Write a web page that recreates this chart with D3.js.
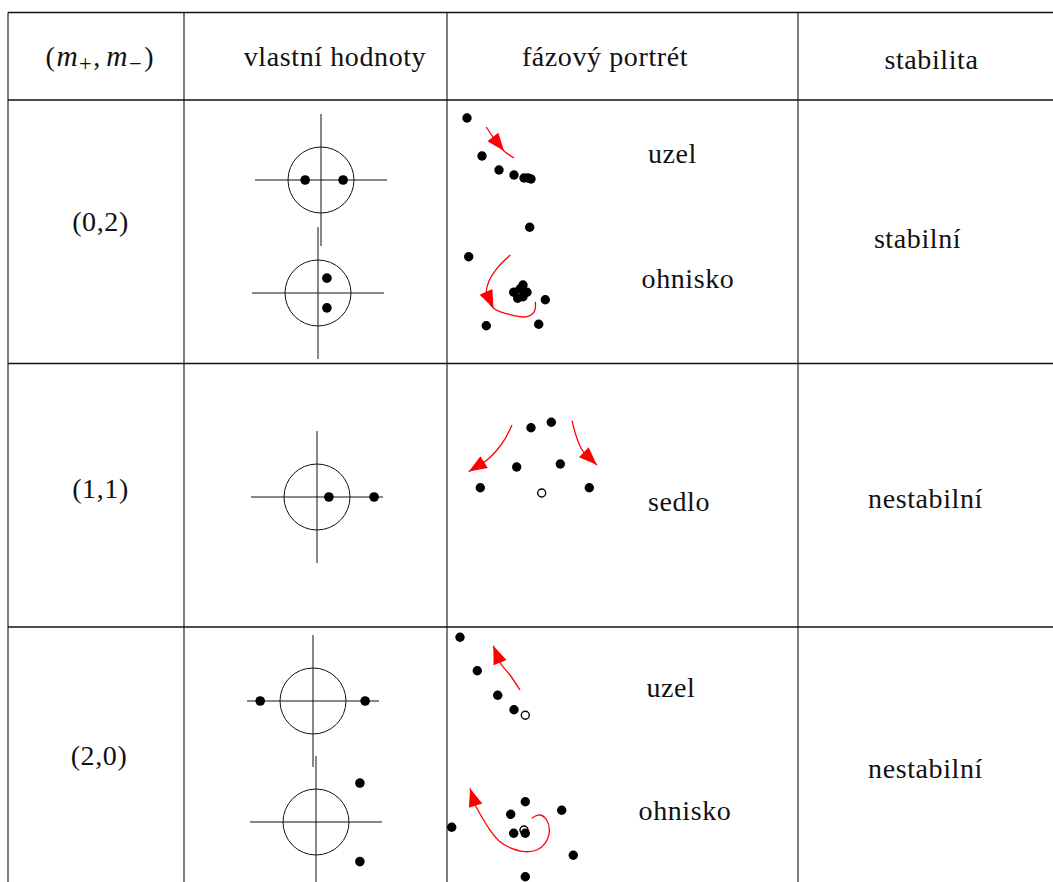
<!DOCTYPE html>
<html><head><meta charset="utf-8">
<script src="https://cdn.jsdelivr.net/npm/d3@7"></script>
<style>body{margin:0;background:#fff}svg{display:block}</style>
</head><body><svg id="c" width="1053" height="882"></svg>
<script>
// ---------- data ----------
const headers = ["vlastní hodnoty", "fázový portrét", "stabilita"];
const rowLabels = ["(0,2)", "(1,1)", "(2,0)"];
const stabilityLabels = ["stabilní", "nestabilní", "nestabilní"];
const portraitLabels = ["uzel", "ohnisko", "sedlo", "uzel", "ohnisko"];

// eigenvalues [re, im], unit circle radius = 1
const eigStableNode   = [[-0.48, 0], [0.67, 0]];
const eigStableFocus  = [[0.27, 0.45], [0.27, -0.45]];
const eigSaddle       = [[0.36, 0], [1.73, 0]];
const eigUnstableNode = [[-1.6, 0], [1.58, 0]];
const eigUnstableFocus= [[1.33, 1.18], [1.33, -1.2]];

// phase portrait trajectory points (relative to equilibrium, math coords)
const ptsStableNode = [[-6.3,6.0],[-4.8,2.2],[-3.1,0.8],[-1.6,0.3],[-0.6,0],[-0.2,0],[0.1,-0.1]];
const arrStableNode = [[-4.37,5.1],[-3.5,3.8],[-2.6,2.7],[-1.6,2.0]];
const ptsStableFocus = [[0.87,6.47],[-5.23,3.53],[2.43,-0.77],[-3.47,-3.37],[1.77,-3.23],
  [-0.73,-0.03],[0.2,0.7],[0.6,-0.03],[-0.33,-0.63],[0.2,-0.47],[-0.1,0.3]];
const arrStableFocus = [[-1.07,3.7],[-2.4,2.37],[-3.23,1.03],[-3.47,-0.2],[-2.73,-1.63],
  [-0.73,-2.35],[0.6,-2.47],[1.33,-1.97],[1.43,-0.97]];
const ptsSaddle = [[-1.07,6.53],[0.96,7.07],[-2.5,2.6],[1.86,2.9],[-6.14,0.53],[4.76,0.53]];
const arrSaddleLeft  = [[-2.97,6.8],[-3.64,5.47],[-4.47,4.3],[-5.47,3.3],[-7.3,2.13]];
const arrSaddleRight = [[3.03,7.23],[3.36,5.97],[3.86,4.63],[4.43,3.8],[5.53,2.8]];
const ptsUnstableNode = [[-6.53,7.8],[-4.8,4.46],[-2.76,2.0],[-1.13,0.56]];
const arrUnstableNode = [[-0.53,2.53],[-1.53,4.03],[-2.5,5.23],[-3.2,6.96]];
const ptsUnstableFocus = [[-7.23,0.27],[0.13,2.83],[-1.33,1.57],[3.77,1.97],[-1.03,-0.33],
  [0.13,-0.33],[4.93,-2.53],[0.13,-4.67]];
const arrUnstableFocus = [[0.77,1.17],[1.6,1.5],[2.27,1.0],[2.53,-0.17],[2.1,-1.33],[1.27,-2.0],
  [0.1,-2.17],[-1.23,-1.83],[-2.4,-1.17],[-3.4,0],[-4.23,1.33],[-4.87,2.5],[-5.4,4.17]];

// ---------- layout ----------
const colX = [8, 184, 447, 798, 1053];
const rowY = [12.5, 100, 363.5, 627, 900];
const FONT = "'Liberation Serif', 'Times New Roman', serif";
const FS = 28;
const LS = 0.6;

const svg = d3.select("#c");

// table grid
const grid = svg.append("g").attr("stroke", "#111").attr("stroke-width", 1.3);
grid.selectAll("line.h").data(rowY.slice(0, 4)).join("line")
  .attr("x1", colX[0]).attr("x2", colX[4]).attr("y1", d => d).attr("y2", d => d);
grid.selectAll("line.v").data(colX.slice(0, 4)).join("line")
  .attr("stroke-width", 1.1)
  .attr("x1", d => d).attr("x2", d => d).attr("y1", rowY[0]).attr("y2", 882);

function txt(x, y, s) {
  return svg.append("text").attr("x", x).attr("y", y).attr("text-anchor", "middle")
    .attr("font-family", FONT).attr("font-size", FS).attr("letter-spacing", LS)
    .attr("fill", "#111").text(s);
}

// header: (m+, m-)
const mh = svg.append("text").attr("x", 99.5).attr("y", 66).attr("text-anchor", "middle")
  .attr("font-family", FONT).attr("font-size", FS).attr("fill", "#111");
mh.append("tspan").text("(");
mh.append("tspan").attr("font-style", "italic").attr("dx", 1.5).attr("font-size", FS * 1.05).text("m");
mh.append("tspan").attr("font-size", FS * 0.8).attr("dy", 5).attr("dx", 1.5).text("+");
mh.append("tspan").attr("dy", -5).attr("dx", 1.5).text(",");
mh.append("tspan").attr("font-style", "italic").attr("dx", 6).attr("font-size", FS * 1.05).text("m");
mh.append("tspan").attr("font-size", FS * 0.8).attr("dy", 5).attr("dx", 1.5).text("−");
mh.append("tspan").attr("dy", -5).attr("dx", 2.5).text(")");

const headerPos = [[335, 66], [605, 66], [931.5, 69]];
headers.forEach((h, i) => txt(headerPos[i][0], headerPos[i][1], h));

const rowLabelPos = [[100.5, 231], [100.5, 498], [99, 765]];
rowLabels.forEach((r, i) => txt(rowLabelPos[i][0], rowLabelPos[i][1], r));

const stabPos = [[917.5, 248], [925.5, 508], [925.5, 778]];
stabilityLabels.forEach((s, i) => txt(stabPos[i][0], stabPos[i][1], s));

const portraitLabelPos = [[672.5, 163], [688, 288], [679, 511], [671, 697], [685, 820]];
portraitLabels.forEach((s, i) => txt(portraitLabelPos[i][0], portraitLabelPos[i][1], s));

// ---------- eigenvalue diagrams ----------
const eScale = d3.scaleLinear().domain([-1, 1]).range([-33, 33]);
function eigenDiagram(cx, cy, vals) {
  const g = svg.append("g").attr("transform", `translate(${cx},${cy})`);
  g.append("line").attr("x1", eScale(-2)).attr("x2", eScale(2)).attr("y1", 0).attr("y2", 0)
    .attr("stroke", "#111").attr("stroke-width", 1);
  g.append("line").attr("y1", -eScale(2)).attr("y2", eScale(2)).attr("x1", 0).attr("x2", 0)
    .attr("stroke", "#111").attr("stroke-width", 1);
  g.append("circle").attr("r", eScale(1) - eScale(0)).attr("fill", "none")
    .attr("stroke", "#111").attr("stroke-width", 1);
  g.selectAll("circle.ev").data(vals).join("circle").attr("class", "ev")
    .attr("cx", d => eScale(d[0])).attr("cy", d => -eScale(d[1])).attr("r", 4.8).attr("fill", "#000");
}
eigenDiagram(321, 180, eigStableNode);
eigenDiagram(318, 293, eigStableFocus);
eigenDiagram(317, 497, eigSaddle);
eigenDiagram(313, 701, eigUnstableNode);
eigenDiagram(316, 822, eigUnstableFocus);

// ---------- phase portraits ----------
const px = d3.scaleLinear().domain([0, 1]).range([0, 10]);
const py = d3.scaleLinear().domain([0, 1]).range([0, -10]);
const lineGen = d3.line().x(d => px(d[0])).y(d => py(d[1])).curve(d3.curveCatmullRom.alpha(0.5));

function arrow(g, pts, tipIndex) {
  const path = g.append("path").attr("d", lineGen(pts)).attr("fill", "none")
    .attr("stroke", "#ff0000").attr("stroke-width", 1.3);
  const node = path.node();
  const L = node.getTotalLength();
  const tx = px(pts[tipIndex][0]), ty = py(pts[tipIndex][1]);
  let best = 0, bd = Infinity;
  for (let s = 0; s <= L; s += 0.5) {
    const p = node.getPointAtLength(s);
    const dd = (p.x - tx) ** 2 + (p.y - ty) ** 2;
    if (dd < bd) { bd = dd; best = s; }
  }
  const tip = node.getPointAtLength(best);
  const base = node.getPointAtLength(Math.max(0, best - 18));
  let dx = tip.x - base.x, dy = tip.y - base.y;
  const n = Math.hypot(dx, dy) || 1; dx /= n; dy /= n;
  const bx = tip.x - dx * 18, by = tip.y - dy * 18;
  const w = 7;
  g.append("path")
    .attr("d", `M${tip.x},${tip.y}L${bx - dy * w},${by + dx * w}L${bx + dy * w},${by - dx * w}Z`)
    .attr("fill", "#ff0000");
}

function portrait(cx, cy, pts, arrows, openEq) {
  const g = svg.append("g").attr("transform", `translate(${cx},${cy})`);
  arrows.forEach(a => arrow(g, a[0], a[1]));
  if (openEq) {
    g.append("circle").attr("cx", px(0)).attr("cy", py(0)).attr("r", 4)
      .attr("fill", "#fff").attr("stroke", "#000").attr("stroke-width", 1.4);
  }
  g.selectAll("circle.pt").data(pts).join("circle").attr("class", "pt")
    .attr("cx", d => px(d[0])).attr("cy", d => py(d[1])).attr("r", 4.7).attr("fill", "#000");
}

portrait(530, 178, ptsStableNode, [[arrStableNode, 2]], false);
portrait(521, 292, ptsStableFocus, [[arrStableFocus, 4]], false);
portrait(541.7, 493, ptsSaddle, [[arrSaddleLeft, 4], [arrSaddleRight, 4]], true);
portrait(525.3, 715.3, ptsUnstableNode, [[arrUnstableNode, 3]], true);
portrait(524, 830, ptsUnstableFocus, [[arrUnstableFocus, 12]], true);
</script></body></html>
